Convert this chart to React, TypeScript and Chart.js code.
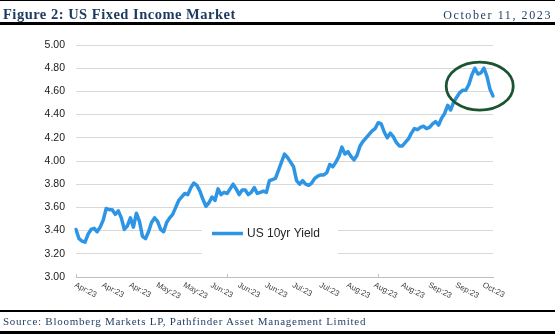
import React, { useEffect, useRef } from 'react';
import { Chart, registerables } from 'chart.js';

Chart.register(...registerables);

// US 10yr Treasury yield, daily, Apr 2023 – Oct 2023
const yields: number[] = [
  3.41, 3.33, 3.31, 3.30, 3.37, 3.41, 3.42, 3.39, 3.43, 3.49,
  3.59, 3.58, 3.58, 3.54, 3.57, 3.51, 3.41, 3.44, 3.51, 3.43,
  3.55, 3.48, 3.35, 3.33, 3.39, 3.47, 3.51, 3.48, 3.41, 3.39,
  3.47, 3.51, 3.54, 3.60, 3.66, 3.69, 3.72, 3.71, 3.77, 3.81,
  3.79, 3.74, 3.67, 3.61, 3.64, 3.69, 3.66, 3.76, 3.71, 3.73,
  3.72, 3.76, 3.80, 3.76, 3.71, 3.75, 3.75, 3.71, 3.73, 3.77,
  3.72, 3.73, 3.74, 3.73, 3.83, 3.84, 3.85, 3.92, 3.99, 4.06,
  4.03, 3.99, 3.95, 3.83, 3.80, 3.83, 3.80, 3.79, 3.81, 3.85,
  3.87, 3.88, 3.88, 3.90, 3.97, 3.95, 3.99, 4.04, 4.12, 4.06,
  4.08, 4.04, 4.01, 4.05, 4.13, 4.17, 4.20, 4.23, 4.26, 4.28,
  4.33, 4.32, 4.25, 4.20, 4.24, 4.21, 4.16, 4.13, 4.13, 4.16,
  4.19, 4.24, 4.28, 4.27, 4.29, 4.30, 4.28, 4.29, 4.32, 4.34,
  4.31, 4.37, 4.41, 4.48, 4.44, 4.51, 4.55, 4.59, 4.61, 4.61,
  4.66, 4.74, 4.80, 4.75, 4.76, 4.80, 4.73, 4.62, 4.56,
];

const tickLabels: string[] = [
  'Apr:23', 'Apr:23', 'Apr:23', 'May:23', 'May:23', 'Jun:23', 'Jun:23', 'Jun:23',
  'Jul:23', 'Jul:23', 'Aug:23', 'Aug:23', 'Aug:23', 'Sep:23', 'Sep:23', 'Oct:23',
];

const seriesName = 'US 10yr Yield';
const yMin = 3.0;
const yMax = 5.0;
const yStep = 0.2;

// label every 9th observation, major tick mark every 50th
const LABEL_EVERY = 9;
const MAJOR_EVERY = 50;

// highlight ellipse, in data units (index, yield)
const highlight = { centerIndex: 133.6, centerValue: 4.645, halfIndex: 11.1, halfValue: 0.207 };

const BLUE = '#2e95e5';
const NAVY = '#1c3a5e';
const GREEN = '#1b5430';

const overlayPlugin = {
  id: 'overlay',
  afterDraw(chart: any) {
    const { ctx, chartArea, scales } = chart;
    const x = scales.x;
    const y = scales.y;

    ctx.save();
    // major tick marks
    ctx.strokeStyle = '#bfbfbf';
    ctx.lineWidth = 1;
    for (let i = 0; i < yields.length; i += MAJOR_EVERY) {
      const px = Math.round(x.getPixelForValue(i)) + 0.5;
      ctx.beginPath();
      ctx.moveTo(px, chartArea.bottom);
      ctx.lineTo(px, chartArea.bottom - 3);
      ctx.stroke();
    }

    // rotated x tick labels
    ctx.font = '8px "Liberation Sans"';
    ctx.fillStyle = '#404040';
    ctx.textAlign = 'left';
    ctx.textBaseline = 'top';
    tickLabels.forEach((t, k) => {
      const px = x.getPixelForValue(k * LABEL_EVERY);
      ctx.save();
      ctx.translate(px + 1, chartArea.bottom + 4);
      ctx.rotate((28 * Math.PI) / 180);
      ctx.fillText(t, 0, 0);
      ctx.restore();
    });

    // legend box inside plot
    ctx.fillStyle = '#ffffff';
    ctx.fillRect(202, 213, 136, 44);
    ctx.strokeStyle = BLUE;
    ctx.lineWidth = 3.5;
    ctx.beginPath();
    ctx.moveTo(212, 233.5);
    ctx.lineTo(243, 233.5);
    ctx.stroke();
    ctx.font = '12px "Liberation Sans"';
    ctx.fillStyle = '#262626';
    ctx.textBaseline = 'middle';
    ctx.fillText(seriesName, 247, 234);

    // highlight ellipse
    const cx = x.getPixelForValue(highlight.centerIndex);
    const cy = y.getPixelForValue(highlight.centerValue);
    const rx = Math.abs(x.getPixelForValue(highlight.centerIndex + highlight.halfIndex) - cx);
    const ry = Math.abs(y.getPixelForValue(highlight.centerValue + highlight.halfValue) - cy);
    ctx.strokeStyle = GREEN;
    ctx.lineWidth = 2.8;
    ctx.beginPath();
    ctx.ellipse(cx, cy, rx, ry, 0, 0, Math.PI * 2);
    ctx.stroke();
    ctx.restore();
  },
};

export default function App() {
  const ref = useRef<HTMLCanvasElement>(null);

  useEffect(() => {
    const canvas = ref.current;
    if (!canvas) return;
    const chart = new Chart(canvas, {
      type: 'line',
      data: {
        labels: yields.map((_, i) => String(i)),
        datasets: [
          {
            label: seriesName,
            data: yields,
            borderColor: BLUE,
            backgroundColor: BLUE,
            borderWidth: 3.5,
            pointRadius: 0,
            tension: 0,
            fill: false,
            borderJoinStyle: 'round',
            borderCapStyle: 'round',
          },
        ],
      },
      options: {
        responsive: false,
        animation: false,
        devicePixelRatio: 1,
        layout: { padding: { top: 45, right: 62, bottom: 0, left: 0 } },
        plugins: { legend: { display: false }, tooltip: { enabled: false } },
        scales: {
          x: {
            type: 'category',
            offset: false,
            grid: { display: false, drawTicks: false },
            border: { display: true, color: '#bfbfbf', width: 1 },
            ticks: { display: false },
            afterFit: (s: any) => {
              s.height = 58;
            },
          },
          y: {
            min: yMin,
            max: yMax,
            ticks: {
              stepSize: yStep,
              callback: (v: any) => Number(v).toFixed(2),
              font: { family: 'Liberation Sans', size: 10.5 },
              color: '#1a1a1a',
              padding: 11,
            },
            grid: { color: '#d9d9d9', lineWidth: 1, drawTicks: false },
            border: { display: false },
            afterFit: (s: any) => {
              s.width = 76;
            },
          },
        },
      } as any,
      plugins: [overlayPlugin],
    });
    return () => chart.destroy();
  }, []);

  const line = (top: number, h: number) => (
    <div style={{ position: 'absolute', left: 0, top, width: 555, height: h, background: '#000' }} />
  );

  return (
    <div style={{ position: 'absolute', left: 0, top: 0, width: 555, height: 335, background: '#fff', overflow: 'hidden' }}>
      <canvas ref={ref} width={555} height={335} style={{ position: 'absolute', left: 0, top: 0 }} />
      {line(0, 1)}
      <div
        style={{
          position: 'absolute', left: 3, top: 5.5, font: 'bold 14.5px "Liberation Serif"', lineHeight: '16px',
          color: NAVY, whiteSpace: 'nowrap', letterSpacing: '0.5px',
        }}
      >
        Figure 2: US Fixed Income Market
      </div>
      <div
        style={{
          position: 'absolute', right: 3, top: 7.5, font: '12px "Liberation Serif"', lineHeight: '14px',
          color: NAVY, whiteSpace: 'nowrap', letterSpacing: '1.6px',
        }}
      >
        October 11, 2023
      </div>
      {line(22, 2.5)}
      {line(309.5, 2.5)}
      <div
        style={{
          position: 'absolute', left: 3, top: 315, font: '11px "Liberation Serif"', lineHeight: '13px',
          color: NAVY, whiteSpace: 'nowrap', letterSpacing: '0.75px',
        }}
      >
        Source: Bloomberg Markets LP, Pathfinder Asset Management Limited
      </div>
      {line(331, 2.5)}
    </div>
  );
}
